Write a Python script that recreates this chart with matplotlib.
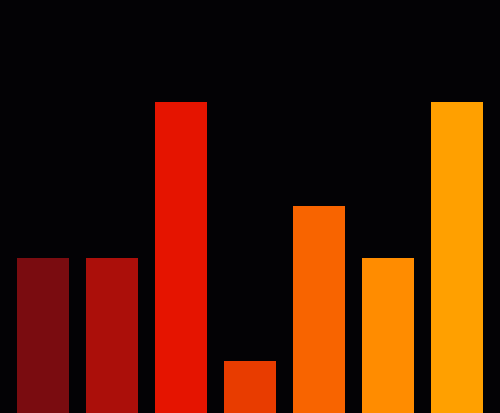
import matplotlib
matplotlib.use('Agg')
import matplotlib.pyplot as plt

values = [3, 3, 6, 1, 4, 3, 6]
colors = ['#7a0c10', '#ab0f0a', '#e51400', '#e83c00', '#f86400', '#ff8c00', '#ffa000']
bg = '#030205'

dpi = 100.
fig = plt.figure(figsize=(500/dpi, 414/dpi), dpi=dpi, facecolor=bg)
ax = fig.add_axes([0, 0, 1, 1], facecolor=bg)

x = range(len(values))
ax.bar(x, values, width=52/69, color=colors, linewidth=0)
ax.set_xlim(-43/69, 6 + 43/69)
ax.set_ylim(0, 414/51.8)
ax.axis('off')

fig.savefig('out.png', dpi=dpi, facecolor=bg)
